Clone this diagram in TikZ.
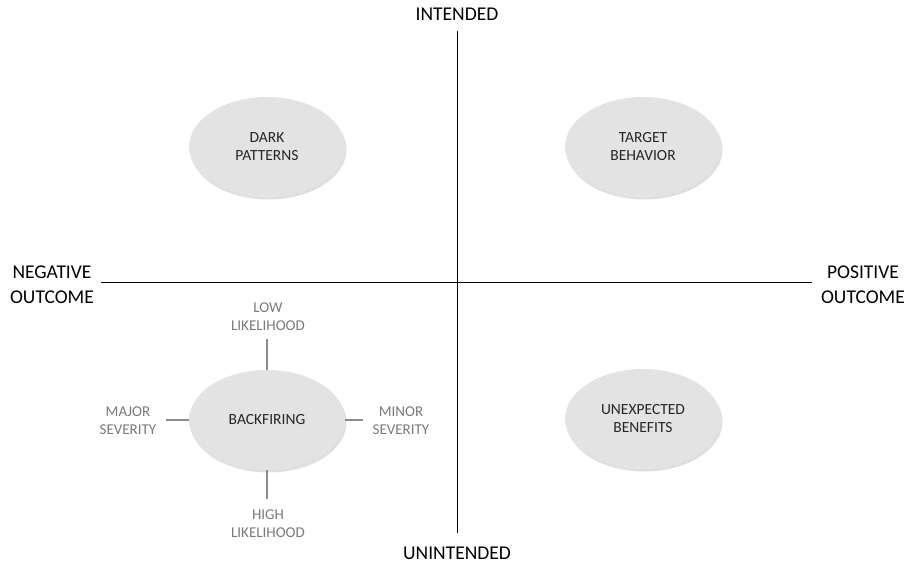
\documentclass[tikz,border=0pt]{standalone}
\usepackage{fontspec}
\setmainfont{Carlito}
\usetikzlibrary{shapes.geometric,shadows}
\definecolor{bubblegray}{HTML}{E3E3E3}
\definecolor{notegray}{HTML}{7A7A7A}
\definecolor{linkgray}{HTML}{8C8C8C}
\tikzset{
    bubble/.style={ellipse, fill=bubblegray, minimum width=156pt, minimum height=100pt,
        inner sep=0pt, align=center, text=black!85,
        font=\fontsize{15.5}{18}\selectfont,
        drop shadow={opacity=0.25, shadow xshift=1.5pt, shadow yshift=-2.5pt}},
    axislabel/.style={align=center, font=\fontsize{19.5}{25}\selectfont},
    note/.style={align=center, text=notegray, font=\fontsize{15}{18}\selectfont},
    notelink/.style={draw=linkgray, line width=1.4pt},
}
\begin{document}
\begin{tikzpicture}[x=1pt,y=-1pt]
                \useasboundingbox (0,0) rectangle (913,563);
                % axes
                \coordinate (Top) at (457,31);
                \coordinate (Bottom) at (457,533);
                \coordinate (Left) at (101,282);
                \coordinate (Right) at (812,282);
                \draw[line width=1pt] (Top) -- (Bottom);
                \draw[line width=1pt] (Left) -- (Right);
                \node[axislabel] (intended) at (457,14) {INTENDED};
                \node[axislabel] (unintended) at (457,553) {UNINTENDED};
                \node[axislabel] (negative) at (52,285) {NEGATIVE\\OUTCOME};
                \node[axislabel] (positive) at (863,285) {POSITIVE\\OUTCOME};
                % quadrants
                \node[bubble] (dark) at (267,147) {DARK\\PATTERNS};
                \node[bubble] (target) at (643,147) {TARGET\\BEHAVIOR};
                \node[bubble] (backfiring) at (267,420) {BACKFIRING};
                \node[bubble] (benefits) at (643,419) {UNEXPECTED\\BENEFITS};
                % backfiring scales
                \coordinate (LowEnd) at (267,339);
                \coordinate (HighEnd) at (267,499);
                \coordinate (MajorEnd) at (166,420);
                \coordinate (MinorEnd) at (363,420);
                \draw[notelink] (backfiring.north) -- (LowEnd);
                \draw[notelink] (backfiring.south) -- (HighEnd);
                \draw[notelink] (backfiring.west) -- (MajorEnd);
                \draw[notelink] (backfiring.east) -- (MinorEnd);
                \node[note] (low) at (268,317) {LOW\\LIKELIHOOD};
                \node[note] (high) at (268,524) {HIGH\\LIKELIHOOD};
                \node[note] (major) at (128,421) {MAJOR\\SEVERITY};
                \node[note] (minor) at (401,421) {MINOR\\SEVERITY};
\end{tikzpicture}
\end{document}
